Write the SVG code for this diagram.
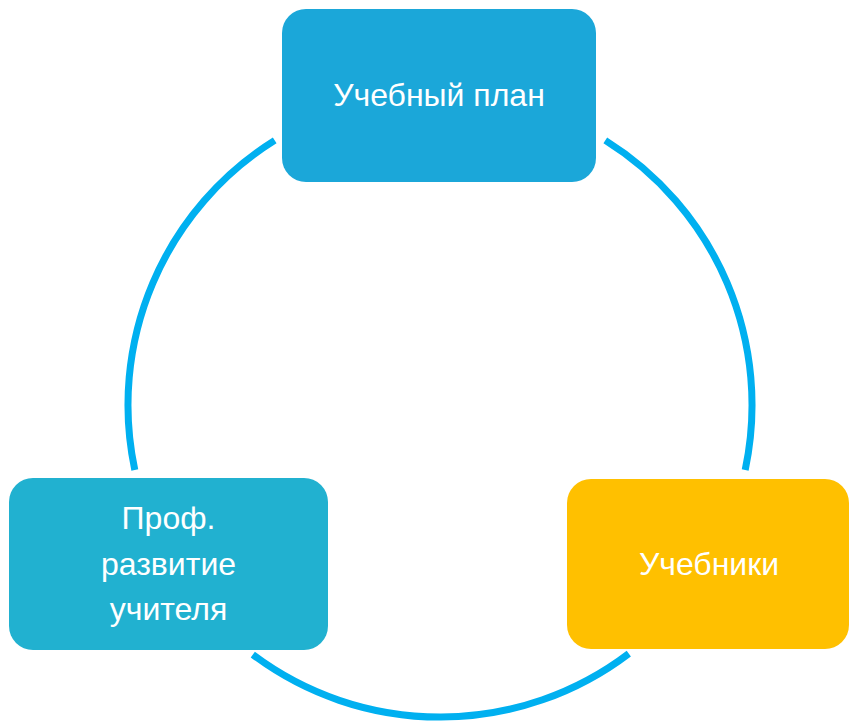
<svg xmlns="http://www.w3.org/2000/svg" width="850" height="723" viewBox="0 0 850 723">
<style>
.arc{fill:none;stroke:#00B0F0;stroke-width:7}
.lbl{font-family:"Liberation Sans",Arial,sans-serif;font-size:32px;fill:#FFFFFF;text-anchor:middle}
</style>
<rect width="850" height="723" fill="#FFFFFF"/>
<g id="connectors">
<path class="arc" d="M605.3,140.4 A312,312 0 0 1 745.2,469.9"/>
<path class="arc" d="M628.8,653.6 A312,312 0 0 1 252.8,654.6"/>
<path class="arc" d="M134.8,469.9 A312,312 0 0 1 274.7,140.4"/>
</g>
<g id="node-plan">
<rect x="282" y="9" width="314" height="173" rx="24" fill="#1BA7D9"/>
<text class="lbl" x="439" y="106">Учебный план</text>
</g>
<g id="node-teacher">
<rect x="9" y="478" width="319" height="172" rx="24" fill="#21B1D0"/>
<text class="lbl" x="168.5" y="529">Проф.</text>
<text class="lbl" x="168.5" y="575">развитие</text>
<text class="lbl" x="168.5" y="620">учителя</text>
</g>
<g id="node-books">
<rect x="567" y="479" width="282" height="170" rx="24" fill="#FFC000"/>
<text class="lbl" x="709" y="575">Учебники</text>
</g>
</svg>
